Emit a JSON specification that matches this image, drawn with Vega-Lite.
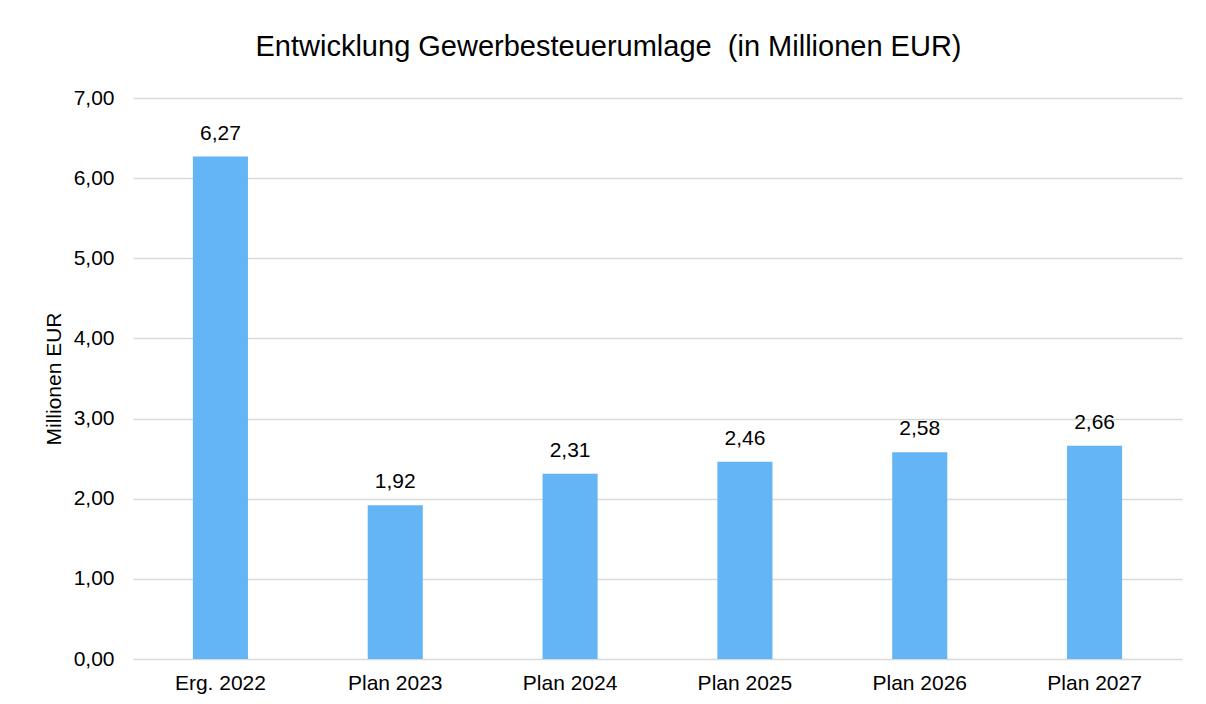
{
  "$schema": "https://vega.github.io/schema/vega-lite/v6.json",
  "width": 1049,
  "height": 561,
  "autosize": "none",
  "padding": {"left": 133, "top": 98, "right": 24, "bottom": 45},
  "background": "white",
  "title": {
    "text": "Entwicklung Gewerbesteuerumlage \u00a0(in Millionen EUR)",
    "font": "Liberation Sans",
    "fontSize": 29,
    "fontWeight": "normal",
    "color": "#000000",
    "anchor": "middle",
    "dx": -49,
    "offset": 25
  },
  "config": {
    "view": {"stroke": null},
    "locale": {"number": {"decimal": ",", "thousands": ".", "grouping": [3], "currency": ["", " €"]}},
    "font": "Liberation Sans"
  },
  "data": {
    "values": [
      {"kategorie": "Erg. 2022", "wert": 6.27},
      {"kategorie": "Plan 2023", "wert": 1.92},
      {"kategorie": "Plan 2024", "wert": 2.31},
      {"kategorie": "Plan 2025", "wert": 2.46},
      {"kategorie": "Plan 2026", "wert": 2.58},
      {"kategorie": "Plan 2027", "wert": 2.66}
    ]
  },
  "encoding": {
    "x": {
      "field": "kategorie",
      "type": "nominal",
      "sort": null,
      "scale": {"paddingInner": 0.685, "paddingOuter": 0.3425},
      "axis": {
        "title": null,
        "labelAngle": 0,
        "labelFont": "Liberation Sans",
        "labelFontSize": 21,
        "labelColor": "#000000",
        "labelPadding": 13,
        "ticks": false,
        "domain": false,
        "grid": false
      }
    },
    "y": {
      "field": "wert",
      "type": "quantitative",
      "scale": {"domain": [0, 7], "nice": false},
      "axis": {
        "title": "Millionen EUR",
        "titleFont": "Liberation Sans",
        "titleFontSize": 21,
        "titleFontWeight": "normal",
        "titleColor": "#000000",
        "titlePadding": 9,
        "values": [0, 1, 2, 3, 4, 5, 6, 7],
        "format": ".2f",
        "labelFont": "Liberation Sans",
        "labelFontSize": 21,
        "labelColor": "#000000",
        "labelPadding": 19,
        "ticks": false,
        "domain": false,
        "grid": true,
        "gridColor": "#d9d9d9",
        "gridWidth": 1.5
      }
    }
  },
  "layer": [
    {"mark": {"type": "bar", "color": "#64B5F6"}},
    {
      "mark": {"type": "text", "baseline": "alphabetic", "dy": -17, "fontSize": 21, "font": "Liberation Sans", "color": "#000000"},
      "encoding": {"text": {"field": "wert", "type": "quantitative", "format": ".2f"}}
    }
  ]
}
